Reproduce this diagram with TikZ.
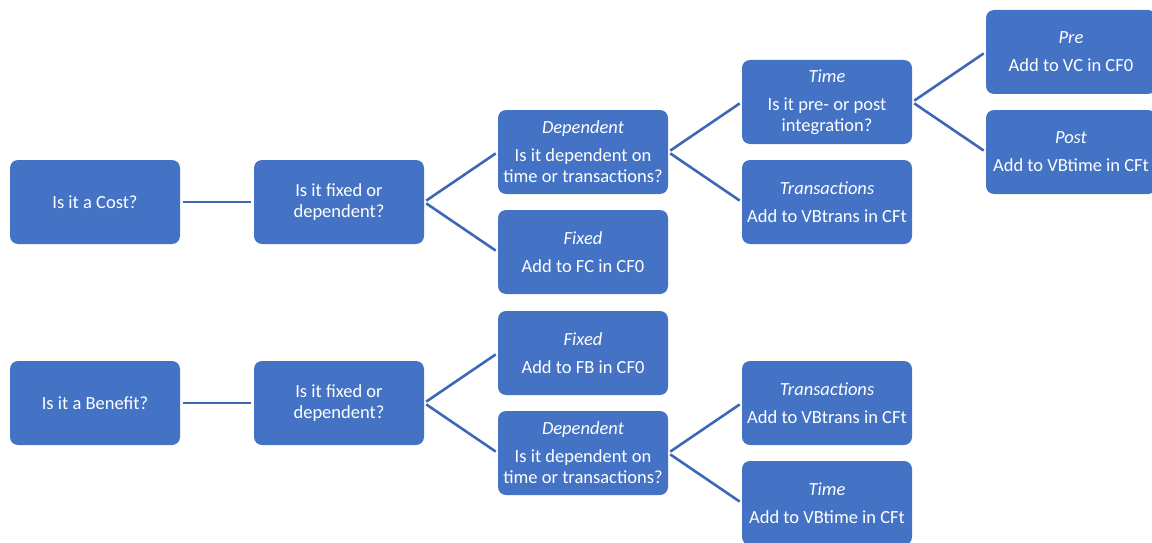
\documentclass[tikz,border=0pt]{standalone}
\usepackage{fontspec}
\setmainfont{Carlito}
\definecolor{boxblue}{HTML}{4472C4}
\definecolor{linkblue}{HTML}{3E68B6}
\begin{document}
\begin{tikzpicture}[x=1pt,y=-1pt,
  blk/.style={rectangle, rounded corners=8pt, fill=boxblue, draw=none,
    minimum width=170pt, minimum height=84pt, inner sep=0pt,
    text=white, align=center, font={\fontsize{18.5pt}{21pt}\selectfont}},
  link/.style={draw=linkblue, line width=2.6pt, shorten <=2.5pt, shorten >=2.5pt}]
\useasboundingbox (0,0) rectangle (1152,543);
\clip (0,0) rectangle (1152,543);
% cost branch
\node[blk] (cost)   at (95,202)  {Is it a Cost?};
\node[blk] (q1)     at (339,202) {Is it fixed or\\dependent?};
\node[blk] (dep1)   at (583,152) {\textit{Dependent}\\[7pt]Is it dependent on\\time or transactions?};
\node[blk] (fix1)   at (583,252) {\textit{Fixed}\\[7pt]Add to FC in CF0};
\node[blk] (time1)  at (827,102) {\textit{Time}\\[7pt]Is it pre- or post\\integration?};
\node[blk] (trans1) at (827,202) {\textit{Transactions}\\[7pt]Add to VBtrans in CFt};
\node[blk] (pre)    at (1071,52) {\textit{Pre}\\[7pt]Add to VC in CF0};
\node[blk] (post)   at (1071,152) {\textit{Post}\\[7pt]Add to VBtime in CFt};
% benefit branch
\node[blk] (ben)    at (95,403)  {Is it a Benefit?};
\node[blk] (q2)     at (339,403) {Is it fixed or\\dependent?};
\node[blk] (fix2)   at (583,353) {\textit{Fixed}\\[7pt]Add to FB in CF0};
\node[blk] (dep2)   at (583,453) {\textit{Dependent}\\[7pt]Is it dependent on\\time or transactions?};
\node[blk] (trans2) at (827,403) {\textit{Transactions}\\[7pt]Add to VBtrans in CFt};
\node[blk] (time2)  at (827,503) {\textit{Time}\\[7pt]Add to VBtime in CFt};
% connectors
\draw[link] (cost.east) -- (q1.west);
\draw[link] (q1.east) -- (dep1.west);
\draw[link] (q1.east) -- (fix1.west);
\draw[link] (dep1.east) -- (time1.west);
\draw[link] (dep1.east) -- (trans1.west);
\draw[link] (time1.east) -- (pre.west);
\draw[link] (time1.east) -- (post.west);
\draw[link] (ben.east) -- (q2.west);
\draw[link] (q2.east) -- (fix2.west);
\draw[link] (q2.east) -- (dep2.west);
\draw[link] (dep2.east) -- (trans2.west);
\draw[link] (dep2.east) -- (time2.west);
\end{tikzpicture}
\end{document}
